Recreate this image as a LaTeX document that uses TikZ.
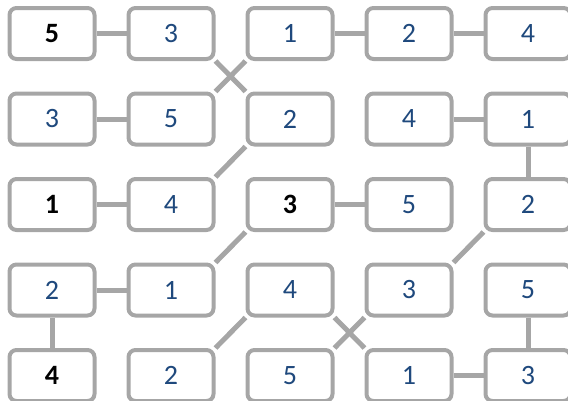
\documentclass[tikz,border=0pt]{standalone}
\usepackage{fontspec}
\setmainfont{Carlito}
\usepackage{xcolor}
\usepackage{tikz}
\definecolor{boxgray}{HTML}{A6A6A6}
\definecolor{numblue}{HTML}{1F497D}

\begin{document}
\begin{tikzpicture}[x=1pt, y=-1pt,
    numbox/.style={draw=boxgray, fill=white, line width=4pt, rounded corners=7pt,
                   minimum width=85pt, minimum height=51pt, inner sep=0pt,
                   font=\fontsize{28}{32}\selectfont, text=numblue},
    keynum/.style={numbox, font=\fontsize{28}{32}\selectfont\bfseries, text=black},
    link/.style={draw=boxgray, line width=5pt}]
  \useasboundingbox (0,0) rectangle (568,400);

  % row 1
  \node[keynum] (r1c1) at (52,33.5) {5};
  \node[numbox] (r1c2) at (171,33.5) {3};
  \node[numbox] (r1c3) at (290,33.5) {1};
  \node[numbox] (r1c4) at (409,33.5) {2};
  \node[numbox] (r1c5) at (528,33.5) {4};
  % row 2
  \node[numbox] (r2c1) at (52,119) {3};
  \node[numbox] (r2c2) at (171,119) {5};
  \node[numbox] (r2c3) at (290,119) {2};
  \node[numbox] (r2c4) at (409,119) {4};
  \node[numbox] (r2c5) at (528,119) {1};
  % row 3
  \node[keynum] (r3c1) at (52,204.5) {1};
  \node[numbox] (r3c2) at (171,204.5) {4};
  \node[keynum] (r3c3) at (290,204.5) {3};
  \node[numbox] (r3c4) at (409,204.5) {5};
  \node[numbox] (r3c5) at (528,204.5) {2};
  % row 4
  \node[numbox] (r4c1) at (52,290) {2};
  \node[numbox] (r4c2) at (171,290) {1};
  \node[numbox] (r4c3) at (290,290) {4};
  \node[numbox] (r4c4) at (409,290) {3};
  \node[numbox] (r4c5) at (528,290) {5};
  % row 5
  \node[keynum] (r5c1) at (52,375.5) {4};
  \node[numbox] (r5c2) at (171,375.5) {2};
  \node[numbox] (r5c3) at (290,375.5) {5};
  \node[numbox] (r5c4) at (409,375.5) {1};
  \node[numbox] (r5c5) at (528,375.5) {3};

  % straight links
  \draw[link] (r1c1) -- (r1c2);
  \draw[link] (r1c3) -- (r1c4);
  \draw[link] (r1c4) -- (r1c5);
  \draw[link] (r2c1) -- (r2c2);
  \draw[link] (r2c4) -- (r2c5);
  \draw[link] (r2c5) -- (r3c5);
  \draw[link] (r3c1) -- (r3c2);
  \draw[link] (r3c3) -- (r3c4);
  \draw[link] (r4c1) -- (r4c2);
  \draw[link] (r4c1) -- (r5c1);
  \draw[link] (r4c5) -- (r5c5);
  \draw[link] (r5c4) -- (r5c5);

  % diagonal links
  \draw[link] (r1c2.south east) -- (r2c3.north west);
  \draw[link] (r1c3.south west) -- (r2c2.north east);
  \draw[link] (r2c3.south west) -- (r3c2.north east);
  \draw[link] (r3c3.south west) -- (r4c2.north east);
  \draw[link] (r3c5.south west) -- (r4c4.north east);
  \draw[link] (r4c3.south west) -- (r5c2.north east);
  \draw[link] (r4c3.south east) -- (r5c4.north west);
  \draw[link] (r4c4.south west) -- (r5c3.north east);
\end{tikzpicture}
\end{document}
